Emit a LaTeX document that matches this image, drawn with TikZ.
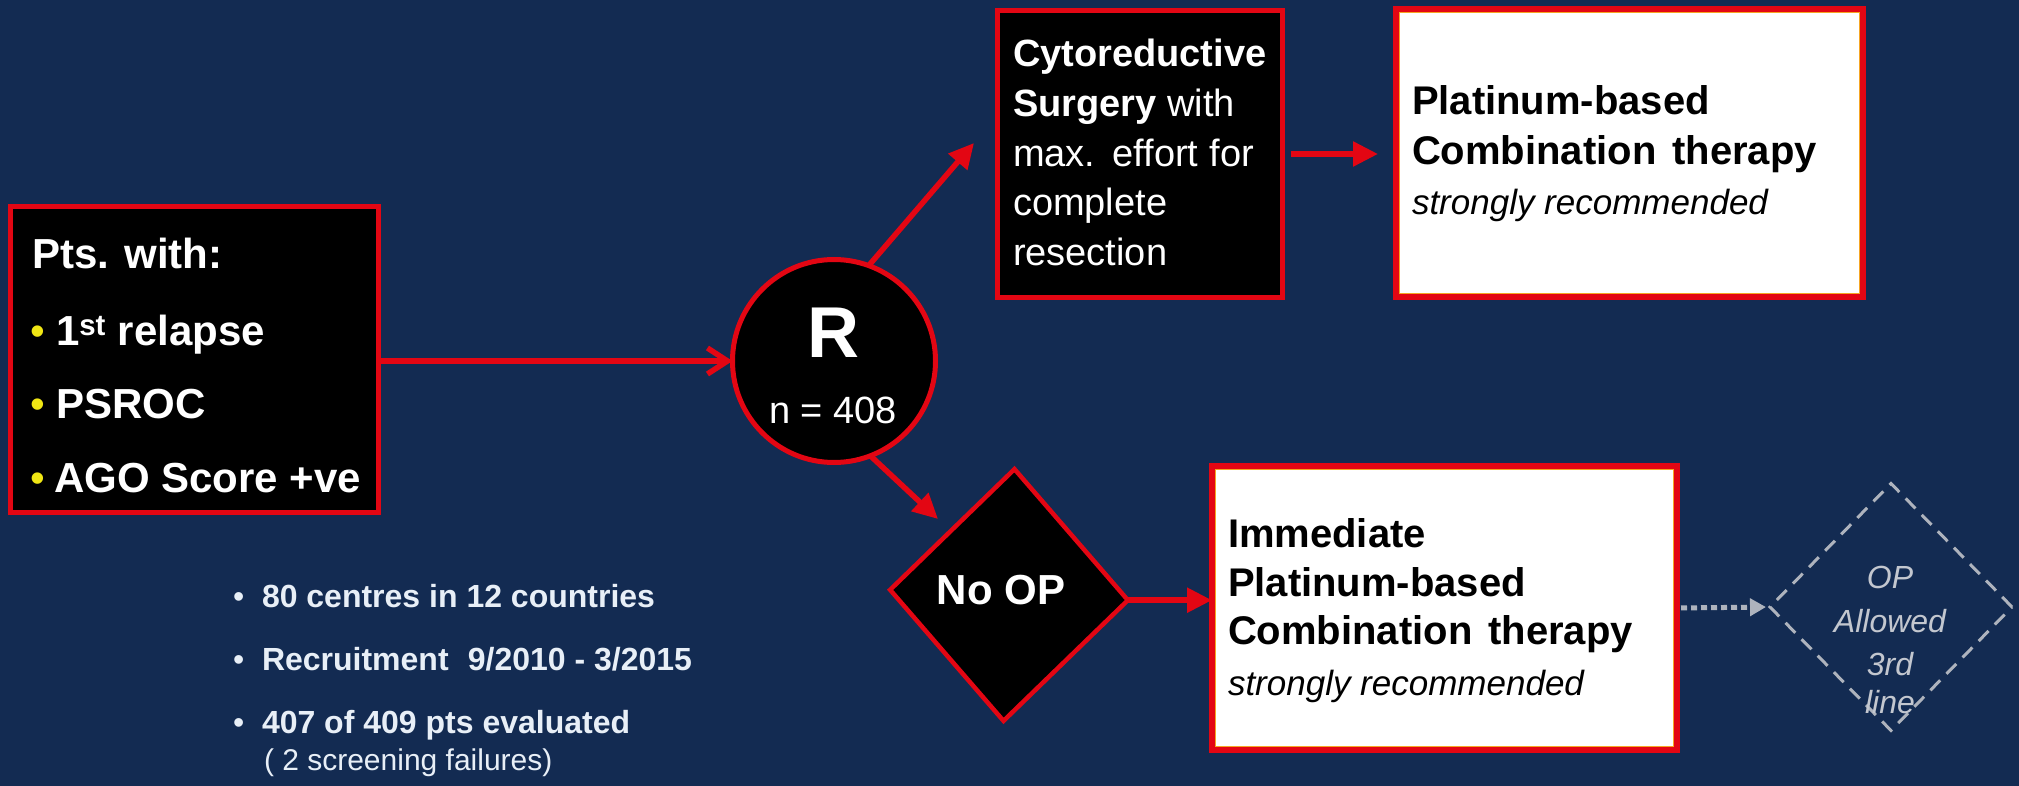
\documentclass[tikz,border=0pt]{standalone}
\usepackage{fontspec}
\setmainfont{Liberation Sans}
\usetikzlibrary{arrows.meta,shapes.geometric}

\definecolor{navy}{HTML}{132B52}
\definecolor{flowred}{HTML}{E30613}
\definecolor{rim}{HTML}{F5A623}
\definecolor{paleblue}{HTML}{E8EFF7}
\definecolor{ghost}{HTML}{AEB3BD}
\definecolor{ghosttext}{HTML}{C3C7CF}
\definecolor{dotyellow}{HTML}{F0E614}

\newcommand\setfs[1]{\fontsize{#1}{#1}\selectfont}

\begin{document}
\begin{tikzpicture}[x=1pt,y=-1pt,
  every node/.style={inner sep=0pt, outer sep=0pt},
  darkbox/.style={draw=flowred, fill=black, line width=5pt, rectangle},
  paperbox/.style={draw=flowred, fill=white, line width=6pt, rectangle},
  txt/.style={anchor=base west},
  ctxt/.style={anchor=base},
  link/.style={draw=flowred, line width=5.5pt, -{Triangle[length=25pt,width=24pt]}},
  hint/.style={draw=ghost, line width=5pt, dash pattern=on 6pt off 4pt,
    -{Triangle[length=16pt,width=17pt]}},
]
\useasboundingbox (0,0) rectangle (2019,786);
\fill[navy] (0,0) rectangle (2019,786);

% ---------- inclusion box ----------
\node[darkbox, minimum width=368pt, minimum height=306pt] (pts) at (194.5,359.5) {};
\begin{scope}[every node/.append style={text=white}]
  \node[txt, font=\setfs{42}\bfseries] (ptsA) at (32,269) {Pts. with:};
  \node[txt, font=\setfs{42}, text=dotyellow] (ptsB1) at (30,345) {•};
  \node[txt, font=\setfs{42}\bfseries] (ptsB) at (56,345) {1\textsuperscript{st} relapse};
  \node[txt, font=\setfs{42}, text=dotyellow] (ptsC1) at (30,418) {•};
  \node[txt, font=\setfs{42}\bfseries] (ptsC) at (56,418) {PSROC};
  \node[txt, font=\setfs{42}, text=dotyellow] (ptsD1) at (30,492) {•};
  \node[txt, font=\setfs{42}\bfseries] (ptsD) at (54,492) {AGO Score +ve};
\end{scope}

% ---------- randomisation ----------
\node[circle, draw=flowred, fill=black, line width=5pt, minimum size=203pt] (R) at (834,361) {};
\node[ctxt, font=\setfs{72}\bfseries, text=white] (Rl) at (833,358) {R};
\node[ctxt, font=\setfs{38}, text=white] (nl) at (833,423) {n = 408};

% ---------- surgery arm ----------
\node[darkbox, minimum width=285pt, minimum height=287pt] (cyto) at (1140,154) {};
\begin{scope}[every node/.append style={text=white, font=\setfs{38}}]
  \node[txt] (cytoA) at (1013,67) {\bfseries Cytoreductive};
  \node[txt] (cytoB) at (1013,117) {\textbf{Surgery} with};
  \node[txt] (cytoC) at (1013,167) {max.\hspace{0.45em}effort\hspace{0.3em}for};
  \node[txt] (cytoD) at (1013,216) {complete};
  \node[txt] (cytoE) at (1013,266) {resection};
\end{scope}

\node[paperbox, minimum width=467pt, minimum height=288pt] (plat1) at (1629.5,153) {};
\draw[rim, line width=1.3pt] ([shift={(3.8,3.8)}]plat1.north west) rectangle ([shift={(-3.8,-3.8)}]plat1.south east);
\node[txt, font=\setfs{40}\bfseries] (plat1A) at (1412,115) {Platinum-based};
\node[txt, font=\setfs{40}\bfseries] (plat1B) at (1412,165) {Combination\hspace{0.4em}therapy};
\node[txt, font=\setfs{35}\itshape] (plat1C) at (1412,215) {strongly recommended};

% ---------- no-surgery arm ----------
\node[diamond, draw=flowred, fill=black, line width=4.5pt, minimum width=238pt, minimum height=252pt, rotate=-2.5] (noop) at (1009,595) {};
\node[ctxt, font=\setfs{42}\bfseries, text=white] (noopl) at (1001,604) {No OP};

\node[paperbox, minimum width=465pt, minimum height=284pt] (plat2) at (1444.5,608) {};
\draw[rim, line width=1.3pt] ([shift={(3.8,3.8)}]plat2.north west) rectangle ([shift={(-3.8,-3.8)}]plat2.south east);
\node[txt, font=\setfs{40}\bfseries] (plat2A) at (1228,547) {Immediate};
\node[txt, font=\setfs{40}\bfseries] (plat2B) at (1228,596) {Platinum-based};
\node[txt, font=\setfs{40}\bfseries] (plat2C) at (1228,644) {Combination\hspace{0.4em}therapy};
\node[txt, font=\setfs{35}\itshape] (plat2D) at (1228,695) {strongly recommended};

% ---------- optional later surgery ----------
\node[diamond, draw=ghost, line width=3pt, dash pattern=on 14pt off 9pt, minimum width=242pt, minimum height=247pt] (opd) at (1891,607) {};
\begin{scope}[every node/.append style={ctxt, font=\setfs{32}\itshape, text=ghosttext}]
  \node (opdA) at (1890,588) {OP};
  \node (opdB) at (1890,632) {Allowed};
  \node (opdC) at (1890,675) {3rd};
  \node (opdD) at (1890,713) {line};
\end{scope}

% ---------- study facts ----------
\begin{scope}[every node/.append style={txt, text=paleblue}]
  \node[font=\setfs{32}] (f1b) at (233,607) {•};
  \node[font=\setfs{32}\bfseries] (f1) at (262,607) {80 centres in 12 countries};
  \node[font=\setfs{32}] (f2b) at (233,670) {•};
  \node[font=\setfs{32}\bfseries] (f2) at (262,670) {Recruitment\hspace{0.6em}9/2010 - 3/2015};
  \node[font=\setfs{32}] (f3b) at (233,733) {•};
  \node[font=\setfs{32}\bfseries] (f3) at (262,733) {407 of 409 pts evaluated};
  \node[font=\setfs{30}] (f4) at (264,770) {( 2 screening failures)};
\end{scope}

% ---------- connectors ----------
\coordinate (upTip) at (974,143);
\coordinate (downTip) at (938,519);
\draw[flowred, line width=5.5pt, -{Straight Barb[length=20pt,width=26pt]}] (pts.east |- R.west) -- (R.west);
\draw[link] (R.70) -- (upTip);
\draw[link] (R.-69) -- (downTip);
\draw[link, shorten <=8pt, shorten >=18pt] (cyto.east) -- (cyto.east -| plat1.west);
\draw[link] (noop.east) -- (noop.east -| plat2.west);
\draw[hint, shorten <=4pt, shorten >=4pt] (plat2.east) -- (opd.west);
\end{tikzpicture}
\end{document}
